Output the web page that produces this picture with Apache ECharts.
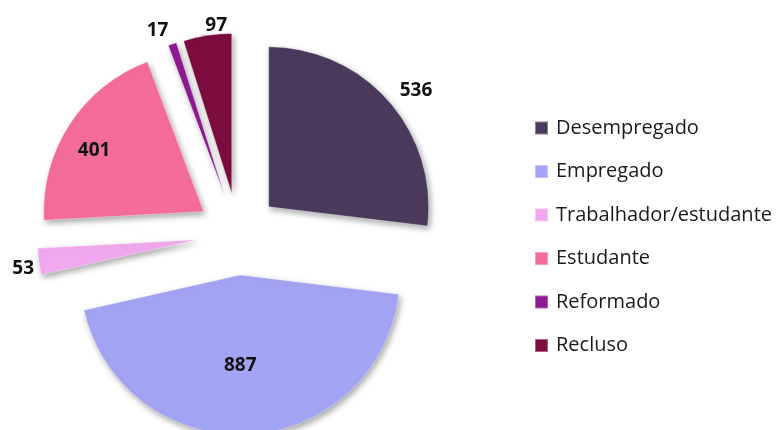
<!DOCTYPE html>
<html>
<head>
<meta charset="utf-8">
<script src="https://cdn.jsdelivr.net/npm/echarts@6/dist/echarts.min.js"></script>
<style>
  html, body { margin: 0; padding: 0; background: #fff; }
  #grafico { width: 779px; height: 430px; }
</style>
</head>
<body>
<div id="grafico"></div>
<script>
// dados
var categorias = ['Desempregado', 'Empregado', 'Trabalhador/estudante', 'Estudante', 'Reformado', 'Recluso'];
var valores = [536, 887, 53, 401, 17, 97];
var cores = ['#4a3a5c', '#a4a4f4', '#f2a8ee', '#f46c9c', '#8e1a92', '#7c0d3e'];

// posição do rótulo: dentro ou fora da fatia, e pequeno ajuste
var posRotulo = ['outside', 'inside', 'outside', 'inside', 'outside', 'outside'];
var ajusteRotulo = [[-5, 0], [-4, 8], [15, 5], [-40, -16], [6, 1], [27, 5]];

var myChart = echarts.init(document.getElementById('grafico'));

var dados = categorias.map(function (nome, i) {
    return {
        name: nome,
        value: valores[i],
        selected: true,
        itemStyle: { color: cores[i] },
        label: { position: posRotulo[i] }
    };
});

myChart.setOption({
    animation: false,
    legend: {
        orient: 'vertical',
        left: 534,
        top: 118,
        padding: 0,
        itemWidth: 13,
        itemHeight: 13,
        itemGap: 23.5,
        icon: 'rect',
        textStyle: { fontFamily: 'Open Sans', fontSize: 20, color: '#1a1a1a', padding: [0, 0, 0, 3] },
        data: categorias
    },
    series: [
        {
            name: 'Situação',
            type: 'pie',
            center: [238, 234],
            radius: [0, 160],
            startAngle: 90,
            clockwise: true,
            selectedMode: 'multiple',
            selectedOffset: 41,
            avoidLabelOverlap: false,
            itemStyle: {
                borderColor: 'rgba(255,255,255,0.35)',
                borderWidth: 1,
                shadowBlur: 6,
                shadowColor: 'rgba(0,0,0,0.35)',
                shadowOffsetX: 2,
                shadowOffsetY: 3
            },
            label: {
                show: true,
                formatter: '{c}',
                fontFamily: 'Open Sans',
                fontWeight: 'bold',
                fontSize: 19,
                color: '#111'
            },
            labelLine: { show: false, length: 15, length2: 0 },
            labelLayout: function (p) {
                var a = ajusteRotulo[p.dataIndex];
                return { dx: a[0], dy: a[1] };
            },
            emphasis: { disabled: true },
            data: dados
        }
    ]
});
</script>
</body>
</html>
